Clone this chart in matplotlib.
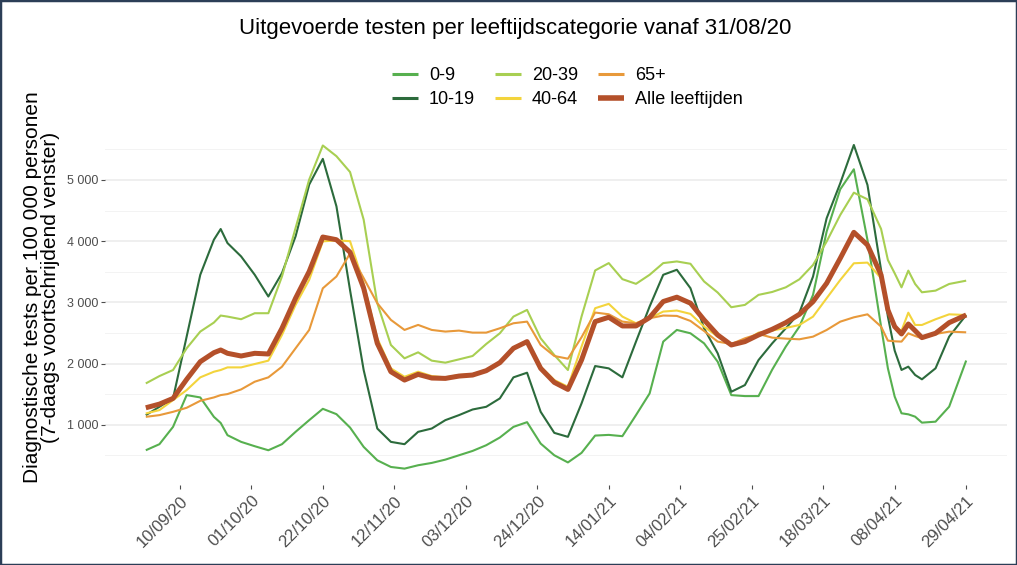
import datetime
import matplotlib
matplotlib.use("Agg")
import matplotlib.pyplot as plt
from matplotlib.ticker import FuncFormatter, MultipleLocator
from matplotlib.patches import Rectangle

plt.rcParams['font.family'] = ['Liberation Sans', 'DejaVu Sans']

# days since 31/08/20 (every 4 days, plus a few extra points around sharp features)
day_offsets = [0, 4, 8, 12, 16, 20, 22, 24, 28, 32, 36, 40, 44, 48, 52, 56, 60,
               64, 68, 72, 76, 80, 84, 88, 92, 96, 100, 104, 108, 112, 116, 120,
               124, 128, 132, 136, 140, 144, 148, 152, 156, 160, 164, 168, 172,
               176, 180, 184, 188, 192, 196, 200, 204, 208, 212, 216, 218, 220,
               222, 224, 226, 228, 232, 236, 241]

age_0_9 = [584, 683, 966, 1485, 1447, 1130, 1030, 830, 721, 650, 584, 683, 885,
           1076, 1261, 1174, 955, 639, 420, 311, 284, 339, 377, 431, 502, 573,
           666, 792, 966, 1043, 693, 502, 385, 541, 824, 835, 814, 1158, 1512,
           2359, 2550, 2495, 2331, 2031, 1485, 1469, 1469, 1900, 2277, 2604,
           3121, 4156, 4848, 5175, 4020, 2604, 1923, 1460, 1188, 1171, 1133,
           1035, 1051, 1296, 2050]

age_10_19 = [1158, 1294, 1431, 2441, 3451, 4024, 4199, 3969, 3751, 3451, 3096,
             3478, 4079, 4925, 5345, 4570, 3200, 1895, 939, 721, 683, 885, 939,
             1076, 1158, 1250, 1294, 1431, 1775, 1851, 1212, 868, 803, 1349,
             1960, 1922, 1775, 2359, 2932, 3451, 3533, 3232, 2577, 2168, 1540,
             1649, 2058, 2330, 2576, 2832, 3421, 4374, 4946, 5572, 4919, 3530,
             2767, 2211, 1896, 1950, 1814, 1743, 1923, 2440, 2794]

age_20_39 = [1676, 1796, 1895, 2250, 2523, 2670, 2785, 2768, 2725, 2823, 2823,
             3423, 4215, 5007, 5564, 5389, 5130, 4352, 2987, 2304, 2086, 2184,
             2048, 2015, 2069, 2124, 2320, 2495, 2768, 2877, 2413, 2140, 1895,
             2768, 3522, 3642, 3380, 3303, 3451, 3642, 3669, 3631, 3342, 3161,
             2921, 2959, 3123, 3170, 3246, 3377, 3611, 3993, 4428, 4793, 4684,
             4200, 3693, 3475, 3246, 3519, 3301, 3165, 3192, 3301, 3355]

age_40_64 = [1185, 1240, 1403, 1567, 1775, 1867, 1895, 1938, 1938, 1993, 2048,
             2468, 2959, 3369, 3997, 4013, 4000, 3314, 2413, 1922, 1785, 1867,
             1796, 1775, 1813, 1829, 1895, 2031, 2250, 2359, 1949, 1731, 1622,
             2277, 2905, 2976, 2768, 2659, 2741, 2850, 2867, 2812, 2604, 2441,
             2320, 2375, 2506, 2540, 2582, 2631, 2767, 3067, 3366, 3639, 3650,
             3394, 2931, 2593, 2538, 2832, 2631, 2631, 2724, 2805, 2794]

age_65_plus = [1130, 1158, 1212, 1278, 1392, 1447, 1485, 1502, 1578, 1704, 1775,
               1949, 2250, 2550, 3230, 3423, 3800, 3396, 2987, 2714, 2550, 2632,
               2550, 2523, 2539, 2506, 2506, 2577, 2659, 2686, 2304, 2124, 2080,
               2430, 2834, 2806, 2686, 2659, 2741, 2785, 2779, 2697, 2533, 2359,
               2320, 2413, 2484, 2424, 2408, 2397, 2440, 2549, 2685, 2756, 2805,
               2604, 2375, 2364, 2359, 2495, 2451, 2413, 2484, 2522, 2511]

all_ages = [1278, 1338, 1431, 1742, 2031, 2178, 2222, 2168, 2124, 2168, 2157,
            2577, 3069, 3505, 4068, 4024, 3820, 3232, 2331, 1867, 1731, 1824,
            1764, 1758, 1796, 1813, 1884, 2015, 2250, 2359, 1922, 1693, 1578,
            2058, 2686, 2757, 2615, 2615, 2752, 3014, 3085, 2987, 2714, 2468,
            2304, 2359, 2468, 2560, 2669, 2805, 3012, 3312, 3720, 4145, 3938,
            3448, 2876, 2604, 2484, 2647, 2538, 2424, 2495, 2669, 2794]

series_labels = ['0-9', '10-19', '20-39', '40-64', '65+', 'Alle leeftijden']
series_colors = ['#57b04f', '#2c6b3c', '#a8cf52', '#f3d43c', '#e8993a', '#b4502a']

tick_labels = ['10/09/20', '01/10/20', '22/10/20', '12/11/20', '03/12/20',
               '24/12/20', '14/01/21', '04/02/21', '25/02/21', '18/03/21',
               '08/04/21', '29/04/21']

start = datetime.date(2020, 8, 31)
dates = [start + datetime.timedelta(days=d) for d in day_offsets]
tick_dates = [datetime.datetime.strptime(t, '%d/%m/%y').date() for t in tick_labels]

fig = plt.figure(figsize=(10.17, 5.65), dpi=100)
ax = fig.add_axes([0.1032, 0.142, 0.887, 0.630])

all_series = [age_0_9, age_10_19, age_20_39, age_40_64, age_65_plus, all_ages]
for vals, lab, col in zip(all_series, series_labels, series_colors):
    lw = 3.6 if lab == 'Alle leeftijden' else 1.5
    ax.plot(dates, vals, color=col, lw=lw, label=lab, solid_capstyle='butt')

ax.set_xlim(start - datetime.timedelta(days=12), start + datetime.timedelta(days=253))
ax.set_ylim(20, 5836)

ax.set_xticks(tick_dates)
ax.set_xticklabels(tick_labels, rotation=45, ha='right', rotation_mode='anchor',
                   fontsize=12, color='#4d4d4d')
ax.yaxis.set_major_locator(MultipleLocator(1000))
ax.yaxis.set_minor_locator(MultipleLocator(500))
ax.yaxis.set_major_formatter(FuncFormatter(lambda v, p: f"{int(v):,}".replace(",", " ")))
ax.tick_params(axis='y', labelsize=9, labelcolor='#4d4d4d', color='#4d4d4d', length=3, pad=2)
ax.tick_params(axis='y', which='minor', length=0)
ax.tick_params(axis='x', color='#4d4d4d', length=3, pad=3)

ax.grid(axis='y', which='major', color='#ebebeb', lw=1.1)
ax.grid(axis='y', which='minor', color='#f3f3f3', lw=0.7)
ax.set_axisbelow(True)
for s in ax.spines.values():
    s.set_visible(False)

ax.set_ylabel('Diagnostische tests per 100 000 personen\n(7-daags voortschrijdend venster)',
              fontsize=15, linespacing=0.9)
ax.yaxis.set_label_coords(-0.050, 0.555)

fig.text(0.507, 0.950, 'Uitgevoerde testen per leeftijdscategorie vanaf 31/08/20',
         ha='center', va='center', fontsize=16)

leg = ax.legend(loc='center', bbox_to_anchor=(0.558, 0.845), bbox_transform=fig.transFigure,
                ncol=3, frameon=False, fontsize=13, handlelength=1.45, handletextpad=0.6,
                columnspacing=1.1, labelspacing=0.4, borderpad=0)
for line in leg.get_lines():
    if line.get_label() != 'Alle leeftijden':
        line.set_linewidth(2.2)
    else:
        line.set_linewidth(4)

fig.patches.append(Rectangle((0, 0), 1, 1, transform=fig.transFigure, fill=False,
                             edgecolor='#2c3e57', lw=2.5))

fig.savefig('out.png', dpi=100)
